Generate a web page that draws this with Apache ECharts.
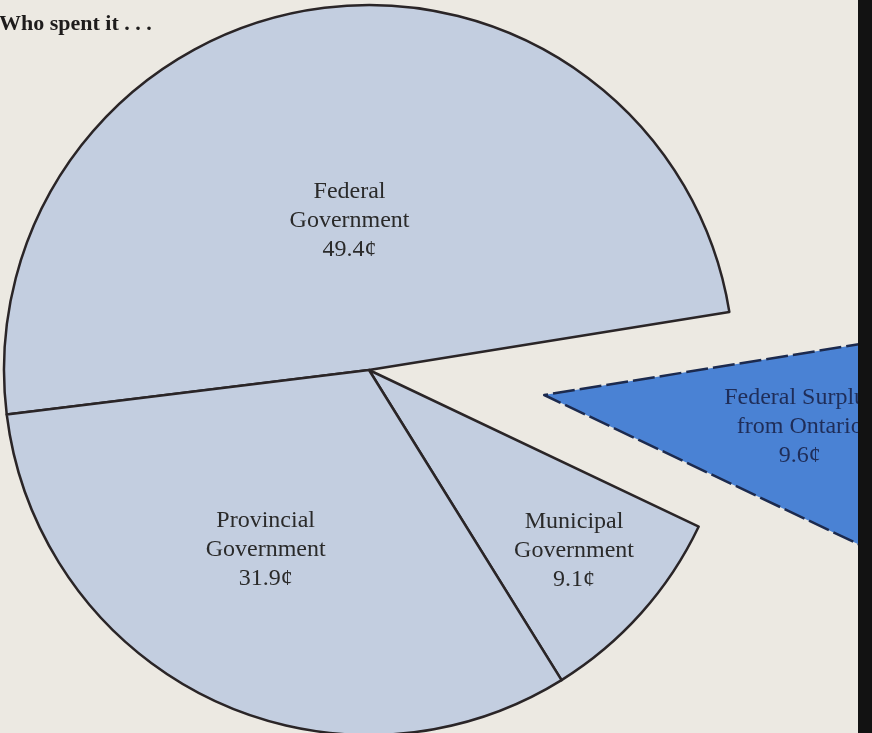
<!DOCTYPE html>
<html>
<head>
<meta charset="utf-8">
<title>Who spent it</title>
<script src="https://cdn.jsdelivr.net/npm/echarts@6/dist/echarts.min.js"></script>
<style>
  html, body { margin: 0; padding: 0; background: #ece9e2; }
  #main { width: 872px; height: 733px; }
</style>
</head>
<body>
<div id="main"></div>
<script>
// data (cents of each tax dollar)
var categories = ['Federal Government', 'Federal Surplus from Ontario', 'Municipal Government', 'Provincial Government'];
var labelLines = [['Federal', 'Government'], ['Federal Surplus', 'from Ontario'], ['Municipal', 'Government'], ['Provincial', 'Government']];
var cents = [49.4, 9.6, 9.1, 31.9];

(function () {
  var chart = echarts.init(document.getElementById('main'));

  var CX = 369, CY = 370, R = 365;
  var START = 187;
  var OFFSET = 177;
  // where each label sits: angle (deg) and distance (fraction of radius)
  var labelAngle = [97.2, -6.1, -40.8, 239.5];
  var labelDist = [0.416, 0.696, 0.734, 0.551];

  var total = cents.reduce(function (a, b) { return a + b; }, 0);
  var midAngles = [];
  var acc = 0;
  cents.forEach(function (v) {
    midAngles.push(START - (acc + v / 2) / total * 360);
    acc += v;
  });

  var data = cents.map(function (v, i) {
    var surplus = i === 1;
    return {
      name: categories[i],
      value: v,
      selected: surplus,
      itemStyle: surplus ? {
        color: '#4a82d4',
        borderColor: '#1c2a4e',
        borderWidth: 2.5,
        borderType: [22, 5]
      } : {
        color: '#c3cee0',
        borderColor: '#2a2527',
        borderWidth: 2.5
      },
      label: { color: surplus ? '#1f2d58' : '#2a2a2a' }
    };
  });

  var option = {
    backgroundColor: '#ece9e2',
    animation: false,
    title: {
      text: 'Who spent it . . .',
      left: -1,
      top: 13,
      padding: 0,
      textStyle: {
        fontFamily: 'Liberation Serif',
        fontWeight: 'bold',
        fontSize: 22,
        color: '#1e1c1c'
      }
    },
    series: [{
      type: 'pie',
      center: [CX, CY],
      radius: R,
      startAngle: START,
      clockwise: true,
      selectedMode: 'single',
      selectedOffset: OFFSET,
      avoidLabelOverlap: false,
      emphasis: { disabled: true },
      label: {
        show: true,
        position: 'inside',
        fontFamily: 'Liberation Serif',
        fontSize: 24,
        lineHeight: 29,
        formatter: function (p) {
          return labelLines[p.dataIndex].join('\n') + '\n' + p.value + '¢';
        }
      },
      labelLine: { show: false },
      labelLayout: function (p) {
        var i = p.dataIndex;
        var m = midAngles[i] * Math.PI / 180;
        var a = labelAngle[i] * Math.PI / 180;
        var d = labelDist[i] * R;
        return {
          dx: Math.cos(a) * d - Math.cos(m) * R / 2,
          dy: -Math.sin(a) * d + Math.sin(m) * R / 2 + 4
        };
      },
      data: data
    }],
    graphic: [{
      type: 'rect',
      right: 0,
      top: 0,
      z: 100,
      shape: { width: 14, height: 733 },
      style: { fill: '#121212' }
    }]
  };

  chart.setOption(option);
})();
</script>
</body>
</html>
